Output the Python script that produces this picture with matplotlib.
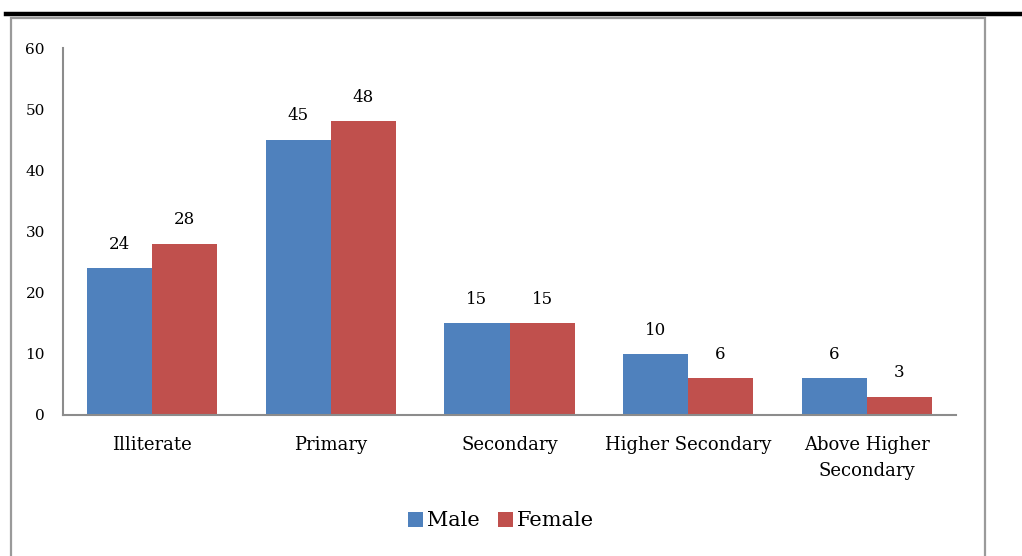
import matplotlib
matplotlib.use("Agg")
import numpy as np
import matplotlib.pyplot as plt
from matplotlib.lines import Line2D
from matplotlib.patches import Rectangle

categories = ["Illiterate", "Primary", "Secondary", "Higher Secondary", "Above Higher\nSecondary"]
male = [24, 45, 15, 10, 6]
female = [28, 48, 15, 6, 3]
yticks = [0, 10, 20, 30, 40, 50, 60]

blue = "#4f81bd"
red = "#c0504d"
grey = "#8c8c8c"
plt.rcParams["font.family"] = ["DejaVu Serif"]

W, H = 1022, 556
fig = plt.figure(figsize=(W / 100, H / 100), dpi=100)

# thick black rule at top and the grey chart frame
fig.add_artist(Line2D([6 / W, 1], [1 - 14 / H, 1 - 14 / H], color="black", lw=3.2))
fig.add_artist(Rectangle((10.5 / W, -0.05), (985 - 10.5) / W, 1.05 - 18.5 / H,
                         fill=False, edgecolor="#9a9a9a", lw=1.6))

ax = fig.add_axes([63 / W, 141 / H, (956 - 63) / W, (415 - 48) / H])
x = np.arange(len(categories))
bw = 0.364
b1 = ax.bar(x - bw / 2, male, bw, color=blue, label="Male")
b2 = ax.bar(x + bw / 2, female, bw, color=red, label="Female")

for bars, vals in ((b1, male), (b2, female)):
    for r, v in zip(bars, vals):
        ax.text(r.get_x() + r.get_width() / 2, v + 2.5, str(v), ha="center", va="bottom", fontsize=12)

ax.set_xlim(-0.5, len(categories) - 0.5)
ax.set_ylim(0, 60)
ax.set_yticks(yticks)
ax.set_xticks(x)
ax.set_xticklabels(categories, fontsize=13, linespacing=1.55)
ax.tick_params(axis="y", length=0, pad=13, labelsize=11)
ax.tick_params(axis="x", length=0, pad=15)
for s in ("top", "right"):
    ax.spines[s].set_visible(False)
for s in ("left", "bottom"):
    ax.spines[s].set_color(grey)
    ax.spines[s].set_linewidth(1.5)

fig.legend(handles=[b1, b2], loc="center", bbox_to_anchor=(501 / W, 1 - 521 / H), ncol=2,
           frameon=False, fontsize=15, handlelength=0.7, handleheight=0.7,
           handletextpad=0.2, columnspacing=0.9)

fig.savefig("out.png", dpi=100)
